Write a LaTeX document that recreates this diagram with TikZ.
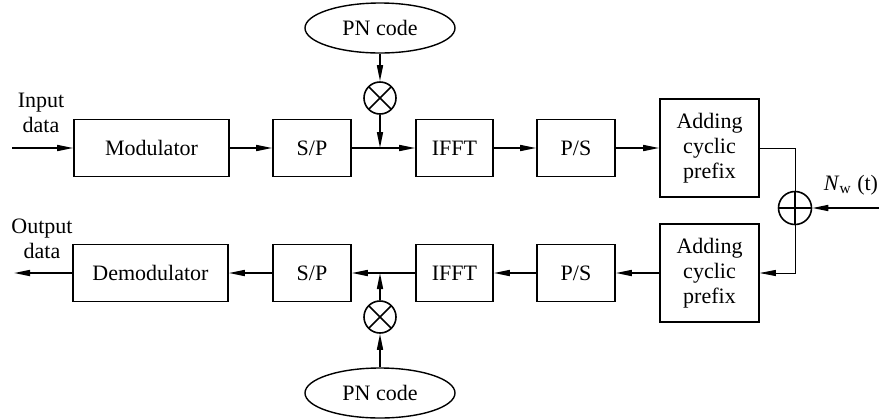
\documentclass[tikz,border=0pt]{standalone}
\usepackage{fontspec}
\setmainfont{Liberation Serif}
\usetikzlibrary{shapes.geometric,arrows.meta}

\begin{document}
\begin{tikzpicture}[auto, x=0.5pt, y=-0.5pt,
    font=\fontsize{11}{12.5}\selectfont,
    block/.style ={rectangle, draw, line width=0.8pt, minimum height=28.5pt, align=center},
    pncode/.style ={ellipse, draw, line width=0.7pt, minimum width=75pt, minimum height=25pt, inner sep=0pt},
    mixer/.style ={circle, draw, line width=0.8pt, minimum size=16pt, inner sep=0pt,
      path picture={\draw[line width=0.8pt] (path picture bounding box.center) ++(45:10pt) -- ++(225:20pt)
        (path picture bounding box.center) ++(135:10pt) -- ++(315:20pt);}},
    adder/.style ={circle, draw, line width=0.8pt, minimum size=16.5pt, inner sep=0pt,
      path picture={\draw[line width=1.2pt] (path picture bounding box.north) -- (path picture bounding box.south)
        (path picture bounding box.east) -- (path picture bounding box.west);}},
    flow/.style ={line width=0.8pt, -{Triangle[length=8pt,width=3pt]}}]
   \useasboundingbox (0,0) rectangle (879,419);
   % transmitter
   \node[block, minimum width=77.5pt] (mod)  at (151.5,148)  {Modulator};
   \node[block, minimum width=39pt] (spT)  at (312,148)  {S/P};
   \node[block, minimum width=38.5pt] (ifftT)  at (454.5,148)  {IFFT};
   \node[block, minimum width=39pt] (psT)  at (576,148)  {P/S};
   \node[block, minimum width=49.5pt, minimum height=49pt] (cpT)  at (709.5,148)  {Adding\\cyclic\\prefix};
   \node[pncode] (pnT)  at (380,28)  {PN code};
   \node[mixer] (mulT)  at (380,98)  {};
   % receiver
   \node[block, minimum width=77.5pt] (demod)  at (150.5,273)  {Demodulator};
   \node[block, minimum width=39pt] (spB)  at (312,273)  {S/P};
   \node[block, minimum width=38.5pt] (ifftB)  at (454.5,273)  {IFFT};
   \node[block, minimum width=39pt] (psB)  at (576,273)  {P/S};
   \node[block, minimum width=49.5pt, minimum height=49pt] (cpB)  at (709.5,273)  {Adding\\cyclic\\prefix};
   \node[pncode] (pnB)  at (380,393)  {PN code};
   \node[mixer] (mulB)  at (380,317)  {};
   % channel
   \node[adder] (add)  at (795,208)  {};
   \coordinate (in)  at (12,148);
   \coordinate (out)  at (14,273);
   \coordinate (noise)  at (879,208);
   \coordinate (jT)  at (380,148);
   \coordinate (jB)  at (380,273);
   \node[align=center] (inlbl)  at (41,113)  {Input\\data};
   \node[align=center] (outlbl)  at (42,239)  {Output\\data};
   \node (nlbl)  at (851,185)  {\textit{N}\textsubscript{w} (t)};
   % connectors
   \draw[flow] (in) to  (mod);
   \draw[flow] (mod) to  (spT);
   \draw[flow] (spT) to  (ifftT);
   \draw[flow] (ifftT) to  (psT);
   \draw[flow] (psT) to  (cpT);
   \draw[flow] (pnT) to  (mulT);
   \draw[flow] (mulT) to  (jT);
   \draw[line width=0.4pt] (cpT.east) -| (add.north);
   \draw[line width=0.4pt, -{Triangle[length=8pt,width=3pt]}] (add.south) |- (cpB.east);
   \draw[flow] (noise) to  (add);
   \draw[flow] (cpB) to  (psB);
   \draw[flow] (psB) to  (ifftB);
   \draw[flow] (ifftB) to  (spB);
   \draw[flow] (spB) to  (demod);
   \draw[flow] (demod) to  (out);
   \draw[flow] (pnB) to  (mulB);
   \draw[flow] (mulB) to  (jB);
 \end{tikzpicture}
\end{document}
